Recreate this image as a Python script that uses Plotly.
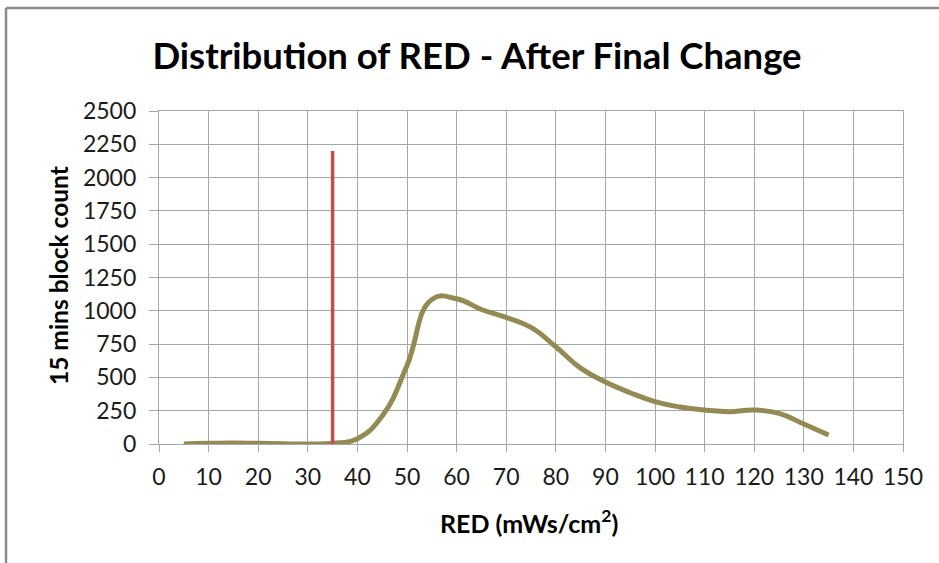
import plotly.graph_objects as go

red_values = [5, 10, 15, 20, 25, 30, 35, 40, 45, 50, 55, 60, 65, 70, 75, 80, 85, 90,
              95, 100, 105, 110, 115, 120, 125, 130, 135]
block_counts = [0, 5, 8, 5, 2, 0, 5, 40, 210, 590, 1085, 1090, 1010, 950, 875, 730, 570, 465,
                385, 318, 278, 255, 243, 255, 230, 150, 68]
limit_x = [35, 35]
limit_y = [0, 2200]
x_ticks = list(range(0, 151, 10))
y_ticks = list(range(0, 2501, 250))

FONT = "Lato, 'Open Sans', sans-serif"
GRID = "#A6A6A6"

fig = go.Figure()
fig.add_trace(go.Scatter(x=red_values, y=block_counts, mode="lines",
                         line=dict(color="#948A54", width=5, shape="spline", smoothing=1.3),
                         showlegend=False, hoverinfo="x+y"))
fig.add_trace(go.Scatter(x=limit_x, y=limit_y, mode="lines",
                         line=dict(color="#C0504D", width=3.5),
                         showlegend=False))

L, R, T, B = 159, 36, 111, 119
W, H = 939, 563
pw, ph = W - L - R, H - T - B

fig.update_layout(
    width=W, height=H,
    margin=dict(l=L, r=R, t=T, b=B),
    paper_bgcolor="white", plot_bgcolor="white",
    font=dict(family=FONT, color="#1a1a1a"),
    title=dict(text="<b>Distribution of RED - After Final Change</b>",
               font=dict(size=36.5, color="#000000", family=FONT),
               x=477 / W, xanchor="center", xref="container",
               y=1 - 56 / H, yanchor="middle", yref="container"),
    xaxis=dict(range=[0, 150], tickvals=x_ticks, ticktext=[str(v) for v in x_ticks],
               showgrid=True, gridcolor=GRID, gridwidth=1.3,
               showline=True, linecolor=GRID, linewidth=1.3, mirror=True,
               ticks="outside", ticklen=7, tickcolor=GRID, tickwidth=1.3,
               tickfont=dict(size=23, color="#1a1a1a"), zeroline=False,
               ticklabelstandoff=5),
    yaxis=dict(range=[0, 2500], tickvals=y_ticks, ticktext=[str(v) for v in y_ticks],
               showgrid=True, gridcolor=GRID, gridwidth=1.3,
               showline=True, linecolor=GRID, linewidth=1.3, mirror=True,
               ticks="outside", ticklen=9, tickcolor=GRID, tickwidth=1.3,
               tickfont=dict(size=23, color="#1a1a1a"), zeroline=False,
               ticklabelstandoff=8),
    annotations=[
        dict(text="<b>RED (mWs/cm<sup>2</sup>)</b>", xref="paper", yref="paper",
             x=(529 - L) / pw, y=-(521 - (T + ph)) / ph, xanchor="center", yanchor="middle",
             showarrow=False, font=dict(size=25, color="#000000", family=FONT)),
        dict(text="<b>15 mins block count</b>", xref="paper", yref="paper",
             x=-(L - 58) / pw, y=(T + ph - 276) / ph, xanchor="center", yanchor="middle",
             textangle=-90, showarrow=False, font=dict(size=24.5, color="#000000", family=FONT)),
    ],
    shapes=[
        dict(type="line", xref="paper", yref="paper",
             x0=-(L - 6) / pw, x1=-(L - 6) / pw, y0=(T + ph - 8) / ph, y1=-(H + 10 - T - ph) / ph,
             line=dict(color="#8C8C8C", width=2.5)),
        dict(type="line", xref="paper", yref="paper",
             x0=-(L - 6) / pw, x1=(W + 10 - L) / pw, y0=(T + ph - 8) / ph, y1=(T + ph - 8) / ph,
             line=dict(color="#8C8C8C", width=2.5)),
    ],
)

fig.write_html("out.html", config={"displayModeBar": False},
               post_script="document.body.style.margin='0';document.body.style.overflow='hidden';")
